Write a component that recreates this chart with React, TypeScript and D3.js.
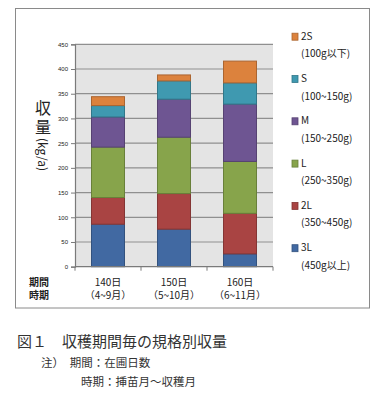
import React, { useRef, useEffect } from 'react';
import * as d3 from 'd3';

// categories (x axis)
const periods = ['140日', '150日', '160日'];
const seasons = ['（4~9月）', '（5~10月）', '（6~11月）'];

// size classes, bottom to top
const grades = ['3L', '2L', 'L', 'M', 'S', '2S'];
const gradeNotes = ['(450g以上)', '(350~450g)', '(250~350g)', '(150~250g)', '(100~150g)', '(100g以下)'];
const gradeColors = ['#4169a2', '#a94443', '#87a44b', '#6e5592', '#3f99b0', '#dc823d'];

// yield kg/a per grade, per period
const v3L = [86, 76, 26];
const v2L = [54, 72, 82];
const vL = [102, 114, 105];
const vM = [61, 77, 116];
const vS = [23, 37, 43];
const v2S = [18, 12, 44];

const yTicks = [0, 50, 100, 150, 200, 250, 300, 350, 400, 450];

const jp = '"Noto Sans CJK JP", "Noto Sans", sans-serif';

export default function App() {
  const ref = useRef<SVGSVGElement>(null);

  useEffect(() => {
    if (!ref.current) return;
    const svg = d3.select(ref.current);
    svg.selectAll('*').remove();

    const left = 75, right = 273, top = 44.3, bottom = 266.7;

    const rows = periods.map((p, i) => ({
      period: p,
      '3L': v3L[i], '2L': v2L[i], 'L': vL[i], 'M': vM[i], 'S': vS[i], '2S': v2S[i]
    }));

    const x = d3.scaleBand().domain(periods).range([left, right]).paddingInner(0.5).paddingOuter(0.25);
    const y = d3.scaleLinear().domain([0, 450]).range([bottom, top]);

    // outer chart frame
    svg.append('rect')
      .attr('x', 15.5).attr('y', 8.5).attr('width', 354).attr('height', 299.5)
      .attr('fill', '#fff').attr('stroke', '#8a8a8a').attr('stroke-width', 1);

    // plot area
    svg.append('rect')
      .attr('x', left).attr('y', top).attr('width', right - left).attr('height', bottom - top)
      .attr('fill', '#e4e4e4');

    // gridlines
    svg.append('g').selectAll('line')
      .data(yTicks.filter(t => t > 0))
      .join('line')
      .attr('x1', left).attr('x2', right)
      .attr('y1', d => y(d)).attr('y2', d => y(d))
      .attr('stroke', '#8f8f8f').attr('stroke-width', 1.2);

    // stacked bars
    const series = d3.stack<any>().keys(grades)(rows);
    svg.append('g').selectAll('g')
      .data(series)
      .join('g')
      .attr('fill', (d, i) => gradeColors[i])
      .attr('stroke', (d, i) => d3.color(gradeColors[i])!.darker(0.7).toString())
      .selectAll('rect')
      .data(d => d)
      .join('rect')
      .attr('x', d => x(d.data.period)!)
      .attr('width', x.bandwidth())
      .attr('y', d => y(d[1]))
      .attr('height', d => y(d[0]) - y(d[1]))
      .attr('stroke-width', 1);

    // y axis
    const ya = svg.append('g').attr('transform', `translate(${left},0)`)
      .call(d3.axisLeft(y).tickValues(yTicks).tickSize(4).tickPadding(3));
    ya.select('.domain').attr('stroke', '#7a7a7a').attr('stroke-width', 1.2);
    ya.selectAll('line').attr('stroke', '#7a7a7a');
    ya.selectAll('text').attr('font-size', 6).attr('font-family', '"Liberation Sans", Arial, sans-serif').attr('fill', '#222');

    // x axis (category boundary ticks)
    svg.append('line')
      .attr('x1', left).attr('x2', right).attr('y1', bottom).attr('y2', bottom)
      .attr('stroke', '#7a7a7a').attr('stroke-width', 1.2);
    const step = x.step();
    svg.append('g').selectAll('line')
      .data(d3.range(periods.length + 1))
      .join('line')
      .attr('x1', i => left + i * step).attr('x2', i => left + i * step)
      .attr('y1', bottom).attr('y2', bottom + 4)
      .attr('stroke', '#7a7a7a');

    const xl = svg.append('g').attr('font-family', jp).attr('font-size', 10).attr('fill', '#222').attr('text-anchor', 'middle');
    periods.forEach((p, i) => {
      const cx = x(p)! + x.bandwidth() / 2;
      xl.append('text').attr('x', cx).attr('y', 285.5).text(p);
      xl.append('text').attr('x', cx).attr('y', 299).text(seasons[i]);
    });
    xl.append('text').attr('x', 39).attr('y', 285.5).attr('font-weight', 'bold').attr('text-anchor', 'middle').text('期間');
    xl.append('text').attr('x', 39).attr('y', 299).attr('font-weight', 'bold').attr('text-anchor', 'middle').text('時期');

    // y axis title, vertical: kanji upright, latin turned
    const yTitle = svg.append('text')
      .attr('x', 43).attr('y', 100)
      .attr('font-family', jp).attr('fill', '#222')
      .style('writing-mode', 'vertical-rl');
    yTitle.append('tspan').attr('font-size', 16).attr('letter-spacing', 3).text('収量');
    yTitle.append('tspan').attr('font-size', 12).text('(kg/a)');

    // legend, 2S at top
    const lg = svg.append('g').attr('font-family', jp).attr('font-size', 10).attr('fill', '#222');
    const order = d3.range(grades.length).reverse();
    order.forEach((gi, k) => {
      const cy = 36.7 + k * 42.3;
      lg.append('rect')
        .attr('x', 292).attr('y', cy - 3.5).attr('width', 6).attr('height', 7)
        .attr('fill', gradeColors[gi])
        .attr('stroke', d3.color(gradeColors[gi])!.darker(0.7).toString()).attr('stroke-width', 0.8);
      lg.append('text').attr('x', 301).attr('y', cy + 3).text(grades[gi]);
      lg.append('text').attr('x', 301).attr('y', cy + 20.5).text(gradeNotes[gi]);
    });

    // caption
    const cap = svg.append('g').attr('font-family', jp).attr('fill', '#333');
    cap.append('text').attr('x', 17).attr('y', 347).attr('font-size', 15).text('図１　収穫期間毎の規格別収量');
    cap.append('text').attr('x', 41).attr('y', 367).attr('font-size', 11.5).text('注）　期間：在圃日数');
    cap.append('text').attr('x', 81).attr('y', 386).attr('font-size', 11.5).text('時期：挿苗月～収穫月');
  }, []);

  return (
    <svg
      ref={ref}
      width={390}
      height={401}
      style={{ position: 'absolute', left: 0, top: 0, background: '#fff' }}
    />
  );
}
